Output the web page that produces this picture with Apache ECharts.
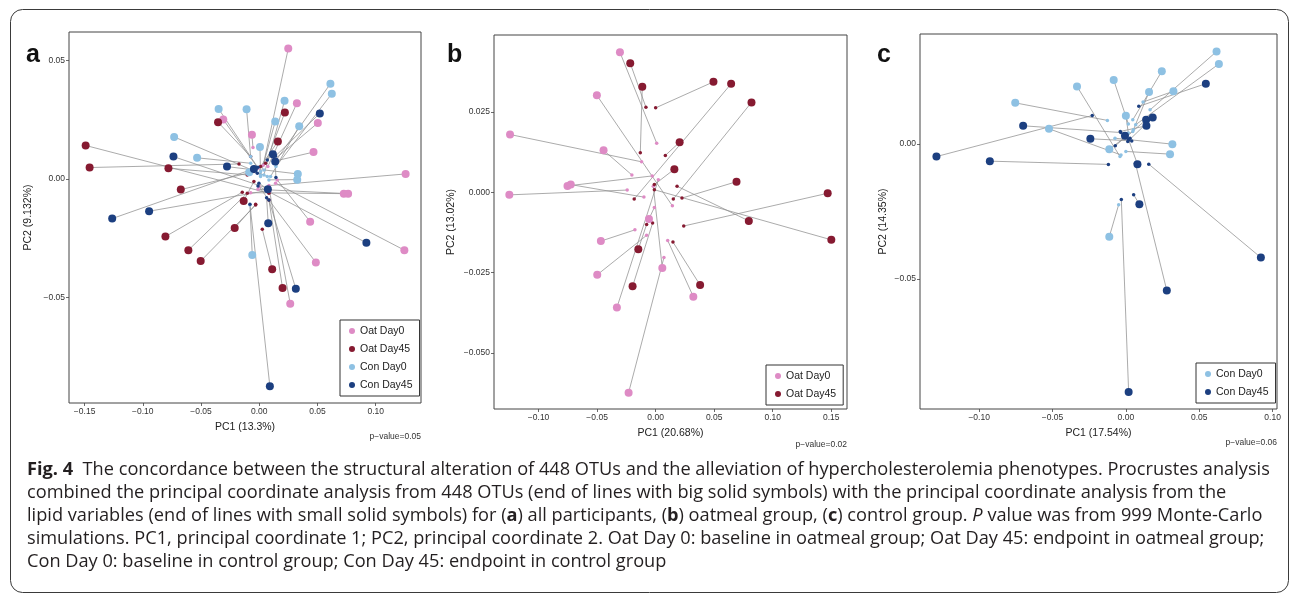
<!DOCTYPE html>
<html lang="en">
<head>
    <meta charset="UTF-8">
    <title>Fig. 4 Procrustes analysis</title>
    <style type="text/css">
        html, body { margin: 0; padding: 0; background: #fff; }
        #main { width: 1295px; height: 597px; }
    </style>
    <script src="https://cdn.jsdelivr.net/npm/echarts@6.0.0/dist/echarts.min.js"></script>
</head>
<body>
    <div id="main"></div>
    <script type="text/javascript">
    // ---- panel a : all participants (big = OTU end, small = lipid end) ----
    var aOat0Big = [[0.0249,0.0549],[0.0323,0.0319],[-0.0309,0.0250],[-0.0063,0.0186],[0.0503,0.0236],[0.0466,0.0113],[0.1257,0.0021],[0.0726,-0.0062],[0.0763,-0.0062],[0.0437,-0.0180],[0.1246,-0.0300],[0.0486,-0.0352],[0.0266,-0.0526]];
    var aOat0Small = [[0.0034,0.0058],[0.0074,0.0052],[-0.0011,0.0045],[-0.0054,0.0132],[0.0126,0.0080],[0.0149,0.0077],[0.0083,-0.0028],[-0.0074,-0.0058],[-0.0011,-0.0044],[0.0154,-0.0004],[0.0140,-0.0018],[-0.0003,-0.0032],[0.0089,-0.0053]];
    var aOat45Big = [[-0.1491,0.0141],[-0.1457,0.0048],[-0.0354,0.0239],[0.0220,0.0280],[0.0160,0.0158],[-0.0780,0.0045],[-0.0674,-0.0045],[-0.0134,-0.0093],[-0.0211,-0.0207],[-0.0806,-0.0243],[-0.0609,-0.0300],[-0.0503,-0.0346],[0.0111,-0.0380],[0.0200,-0.0460]];
    var aOat45Small = [[0.0083,-0.0060],[-0.0174,0.0063],[-0.0074,0.0094],[0.0054,0.0066],[0.0011,0.0052],[-0.0103,0.0017],[-0.0046,0.0031],[-0.0046,-0.0011],[-0.0031,-0.0107],[-0.0146,-0.0056],[-0.0103,-0.0060],[-0.0031,-0.0110],[0.0026,-0.0212],[0.0083,-0.0089]];
    var aCon0Big = [[0.0611,0.0401],[0.0623,0.0359],[0.0217,0.0329],[-0.0349,0.0295],[-0.0109,0.0294],[0.0137,0.0242],[0.0343,0.0222],[-0.0731,0.0177],[0.0006,0.0135],[-0.0534,0.0089],[0.0331,0.0021],[0.0326,-0.0003],[-0.0086,0.0028],[-0.0060,-0.0321]];
    var aCon0Small = [[0.0126,0.0066],[0.0143,0.0052],[0.0040,0.0017],[0.0011,0.0031],[-0.0074,0.0094],[0.0011,0.0017],[0.0097,0.0010],[0.0069,0.0010],[0.0011,0.0010],[-0.0074,0.0066],[0.0040,0.0038],[0.0083,-0.0004],[-0.0046,0.0045],[-0.0080,-0.0110]];
    var aCon45Big = [[0.0520,0.0276],[-0.0737,0.0094],[-0.0277,0.0052],[-0.1263,-0.0167],[-0.0946,-0.0136],[0.0920,-0.0269],[0.0077,-0.0187],[0.0314,-0.0463],[0.0091,-0.0873],[-0.0046,0.0042],[0.0137,0.0073],[0.0117,0.0104],[0.0074,-0.0044]];
    var aCon45Small = [[0.0140,0.0097],[0.0069,-0.0039],[-0.0046,0.0038],[-0.0011,0.0049],[0.0069,-0.0049],[-0.0011,-0.0030],[0.0063,-0.0079],[0.0083,-0.0089],[-0.0080,-0.0107],[-0.0017,0.0024],[0.0143,0.0006],[0.0069,0.0080],[-0.0003,-0.0018]];

    // ---- panel b : oatmeal group ----
    var bOat0Big = [[-0.0305,0.0436],[-0.0502,0.0302],[-0.1244,0.0180],[-0.0445,0.0131],[-0.0753,0.0020],[-0.0725,0.0024],[-0.1250,-0.0008],[-0.0057,-0.0083],[-0.0468,-0.0152],[-0.0499,-0.0257],[-0.0331,-0.0359],[-0.0231,-0.0624],[0.0057,-0.0236],[0.0322,-0.0325]];
    var bOat0Small = [[0.0009,0.0153],[0.0143,-0.0042],[-0.0120,0.0095],[-0.0203,0.0054],[-0.0029,0.0051],[-0.0100,-0.0015],[-0.0243,0.0007],[-0.0011,-0.0047],[-0.0177,-0.0117],[-0.0077,-0.0134],[0.0023,0.0039],[0.0071,-0.0203],[-0.0020,0.0019],[0.0103,-0.0150]];
    var bOat45Big = [[-0.0217,0.0402],[-0.0114,0.0329],[0.0494,0.0344],[0.0645,0.0338],[0.0819,0.0280],[0.0205,0.0156],[0.0160,0.0072],[0.0691,0.0033],[0.0796,-0.0089],[0.1470,-0.0003],[0.1501,-0.0148],[-0.0148,-0.0177],[-0.0197,-0.0293],[0.0380,-0.0289]];
    var bOat45Small = [[-0.0083,0.0265],[-0.0131,0.0123],[0.0000,0.0263],[-0.0183,-0.0021],[0.0151,-0.0021],[0.0083,0.0115],[-0.0011,0.0024],[0.0225,-0.0018],[0.0183,0.0019],[0.0240,-0.0105],[-0.0011,0.0008],[-0.0077,-0.0100],[-0.0026,-0.0096],[0.0148,-0.0155]];

    // ---- panel c : control group ----
    var cCon0Big = [[0.0618,0.0343],[0.0634,0.0297],[0.0245,0.0270],[-0.0083,0.0238],[-0.0333,0.0214],[-0.0754,0.0153],[0.0158,0.0193],[0.0324,0.0196],[0.0000,0.0105],[-0.0524,0.0057],[-0.0113,-0.0019],[0.0317,0.0000],[0.0301,-0.0037],[-0.0113,-0.0343]];
    var cCon0Small = [[0.0165,0.0127],[0.0067,0.0072],[0.0047,0.0090],[0.0017,0.0075],[-0.0040,-0.0046],[-0.0126,0.0088],[0.0051,0.0053],[0.0117,0.0156],[0.0017,0.0041],[-0.0033,-0.0040],[0.0047,0.0047],[-0.0074,0.0022],[0.0000,-0.0027],[-0.0049,-0.0224]];
    var cCon45Big = [[0.0545,0.0224],[-0.1291,-0.0046],[-0.0927,-0.0063],[-0.0700,0.0068],[-0.0242,0.0020],[0.0138,0.0090],[0.0140,0.0068],[0.0183,0.0099],[-0.0006,0.0031],[0.0079,-0.0074],[0.0092,-0.0223],[0.0920,-0.0420],[0.0279,-0.0542],[0.0019,-0.0918]];
    var cCon45Small = [[0.0088,0.0140],[-0.0229,0.0106],[-0.0119,-0.0075],[-0.0035,0.0043],[0.0040,0.0012],[-0.0072,-0.0006],[-0.0038,0.0047],[0.0013,0.0010],[0.0028,0.0022],[0.0019,0.0016],[0.0053,-0.0187],[0.0156,-0.0074],[0.0065,-0.0071],[-0.0031,-0.0205]];

    // tick values
    var aXTicks = [-0.15, -0.10, -0.05, 0, 0.05, 0.10];
    var aYTicks = [-0.05, 0, 0.05];
    var bXTicks = [-0.10, -0.05, 0, 0.05, 0.10, 0.15];
    var bYTicks = [-0.050, -0.025, 0, 0.025];
    var cXTicks = [-0.10, -0.05, 0, 0.05, 0.10];
    var cYTicks = [-0.05, 0];

    var groups = ['Oat Day0', 'Oat Day45', 'Con Day0', 'Con Day45'];
    var colors = {
        'Oat Day0': '#de8bc5',
        'Oat Day45': '#861a31',
        'Con Day0': '#8ec1e3',
        'Con Day45': '#1c3f80'
    };

    var chartFont = 'Liberation Sans, Arial, sans-serif';
    var capFont = 'Open Sans, Noto Sans, sans-serif';
    var capSize = 18.2;

    function fmt(dec) {
        return function(v) {
            return v.toFixed(dec).replace('-', '\u2212');
        };
    }

    function axisOf(idx, min, max, ticks, dec, name, gap) {
        return {
            type: 'value', gridIndex: idx, min: min, max: max,
            name: name, nameLocation: 'middle', nameGap: gap,
            nameTextStyle: { fontSize: 10.5, color: '#222', fontFamily: chartFont },
            axisLine: { show: false, onZero: false },
            splitLine: { show: false },
            axisTick: { show: true, length: 3, customValues: ticks, lineStyle: { color: '#444', width: 0.8 } },
            axisLabel: { customValues: ticks, formatter: fmt(dec), fontSize: 8.5, margin: 4, color: '#333', fontFamily: chartFont }
        };
    }

    // one group in one panel -> connecting lines, small points, big points
    function groupSeries(idx, group, big, small) {
        var segs = [];
        for (var i = 0; i < big.length; i++) {
            segs.push({ coords: [big[i], small[i]] });
        }
        return [{
            type: 'lines', coordinateSystem: 'cartesian2d',
            xAxisIndex: idx, yAxisIndex: idx, silent: true, z: 1,
            lineStyle: { color: '#8f8f8f', width: 0.75, opacity: 1 },
            data: segs
        }, {
            name: group + ' lipid', type: 'scatter', xAxisIndex: idx, yAxisIndex: idx, z: 2,
            symbolSize: 3.5, itemStyle: { color: colors[group], opacity: 1 },
            data: small
        }, {
            name: group, type: 'scatter', xAxisIndex: idx, yAxisIndex: idx, z: 3,
            symbolSize: 8, itemStyle: { color: colors[group], opacity: 1 },
            data: big
        }];
    }

    var series = [].concat(
        groupSeries(0, 'Oat Day0', aOat0Big, aOat0Small),
        groupSeries(0, 'Oat Day45', aOat45Big, aOat45Small),
        groupSeries(0, 'Con Day0', aCon0Big, aCon0Small),
        groupSeries(0, 'Con Day45', aCon45Big, aCon45Small),
        groupSeries(1, 'Oat Day0', bOat0Big, bOat0Small),
        groupSeries(1, 'Oat Day45', bOat45Big, bOat45Small),
        groupSeries(2, 'Con Day0', cCon0Big, cCon0Small),
        groupSeries(2, 'Con Day45', cCon45Big, cCon45Small)
    );

    function legendOf(names, left, top) {
        return {
            data: names, left: left, top: top, orient: 'vertical',
            icon: 'circle', itemWidth: 6, itemHeight: 6, itemGap: 6,
            selectedMode: false, borderColor: '#333', borderWidth: 1,
            padding: [5, 7, 5, 9],
            textStyle: { fontSize: 10.5, lineHeight: 12, color: '#222', fontFamily: chartFont }
        };
    }

    var gridStyle = { show: true, borderColor: '#444', borderWidth: 1, backgroundColor: 'transparent' };

    var capStyle = {
        fontSize: capSize, fontFamily: capFont, fill: '#231f20', verticalAlign: 'middle',
        rich: {
            b: { fontSize: capSize, fontFamily: capFont, fontWeight: 'bold', fill: '#231f20' },
            i: { fontSize: capSize, fontFamily: capFont, fontStyle: 'italic', fill: '#231f20' }
        }
    };
    var capLines = [
        '{b|Fig. 4}  The concordance between the structural alteration of 448 OTUs and the alleviation of hypercholesterolemia phenotypes. Procrustes analysis',
        'combined the principal coordinate analysis from 448 OTUs (end of lines with big solid symbols) with the principal coordinate analysis from the',
        'lipid variables (end of lines with small solid symbols) for ({b|a}) all participants, ({b|b}) oatmeal group, ({b|c}) control group. {i|P} value was from 999 Monte-Carlo',
        'simulations. PC1, principal coordinate 1; PC2, principal coordinate 2. Oat Day 0: baseline in oatmeal group; Oat Day 45: endpoint in oatmeal group;',
        'Con Day 0: baseline in control group; Con Day 45: endpoint in control group'
    ];

    var graphics = [{
        type: 'rect', shape: { x: 10.5, y: 9.5, width: 1278, height: 583, r: 12 },
        style: { fill: 'none', stroke: '#3a3a3a', lineWidth: 1 }, silent: true
    }];
    capLines.forEach(function(t, i) {
        graphics.push({
            type: 'text', x: 27, y: 470 + i * 23,
            style: Object.assign({}, capStyle, { text: t })
        });
    });
    [['a', 26], ['b', 447], ['c', 877]].forEach(function(p) {
        graphics.push({
            type: 'text', x: p[1], y: 43,
            style: { text: p[0], fontSize: 25, fontWeight: 'bold', fontFamily: chartFont, fill: '#111', verticalAlign: 'alphabetic' }
        });
    });
    [['p\u2212value=0.05', 421, 437], ['p\u2212value=0.02', 847, 445], ['p\u2212value=0.06', 1277, 443]].forEach(function(p) {
        graphics.push({
            type: 'text', x: p[1], y: p[2],
            style: { text: p[0], fontSize: 8.5, fontFamily: chartFont, fill: '#333', align: 'right', verticalAlign: 'middle' }
        });
    });

    var myChart = echarts.init(document.getElementById('main'));
    var option = {
        animation: false,
        backgroundColor: '#fff',
        textStyle: { fontFamily: chartFont },
        grid: [
            Object.assign({ left: 69, top: 32, width: 352, height: 371 }, gridStyle),
            Object.assign({ left: 494, top: 35, width: 353, height: 374 }, gridStyle),
            Object.assign({ left: 920, top: 34, width: 357, height: 375 }, gridStyle)
        ],
        xAxis: [
            axisOf(0, -0.1634, 0.1389, aXTicks, 2, 'PC1 (13.3%)', 19),
            axisOf(1, -0.1381, 0.1635, bXTicks, 2, 'PC1 (20.68%)', 19),
            axisOf(2, -0.1403, 0.1030, cXTicks, 2, 'PC1 (17.54%)', 19)
        ],
        yAxis: [
            axisOf(0, -0.0944, 0.0619, aYTicks, 2, 'PC2 (9.132%)', 35),
            axisOf(1, -0.0675, 0.0490, bYTicks, 3, 'PC2 (13.02%)', 37),
            axisOf(2, -0.0981, 0.0408, cYTicks, 2, 'PC2 (14.35%)', 31)
        ],
        legend: [
            legendOf(groups, 340, 320),
            legendOf(['Oat Day0', 'Oat Day45'], 766, 365),
            legendOf(['Con Day0', 'Con Day45'], 1196, 363)
        ],
        series: series,
        graphic: graphics
    };
    myChart.setOption(option);
    </script>
</body>
</html>
